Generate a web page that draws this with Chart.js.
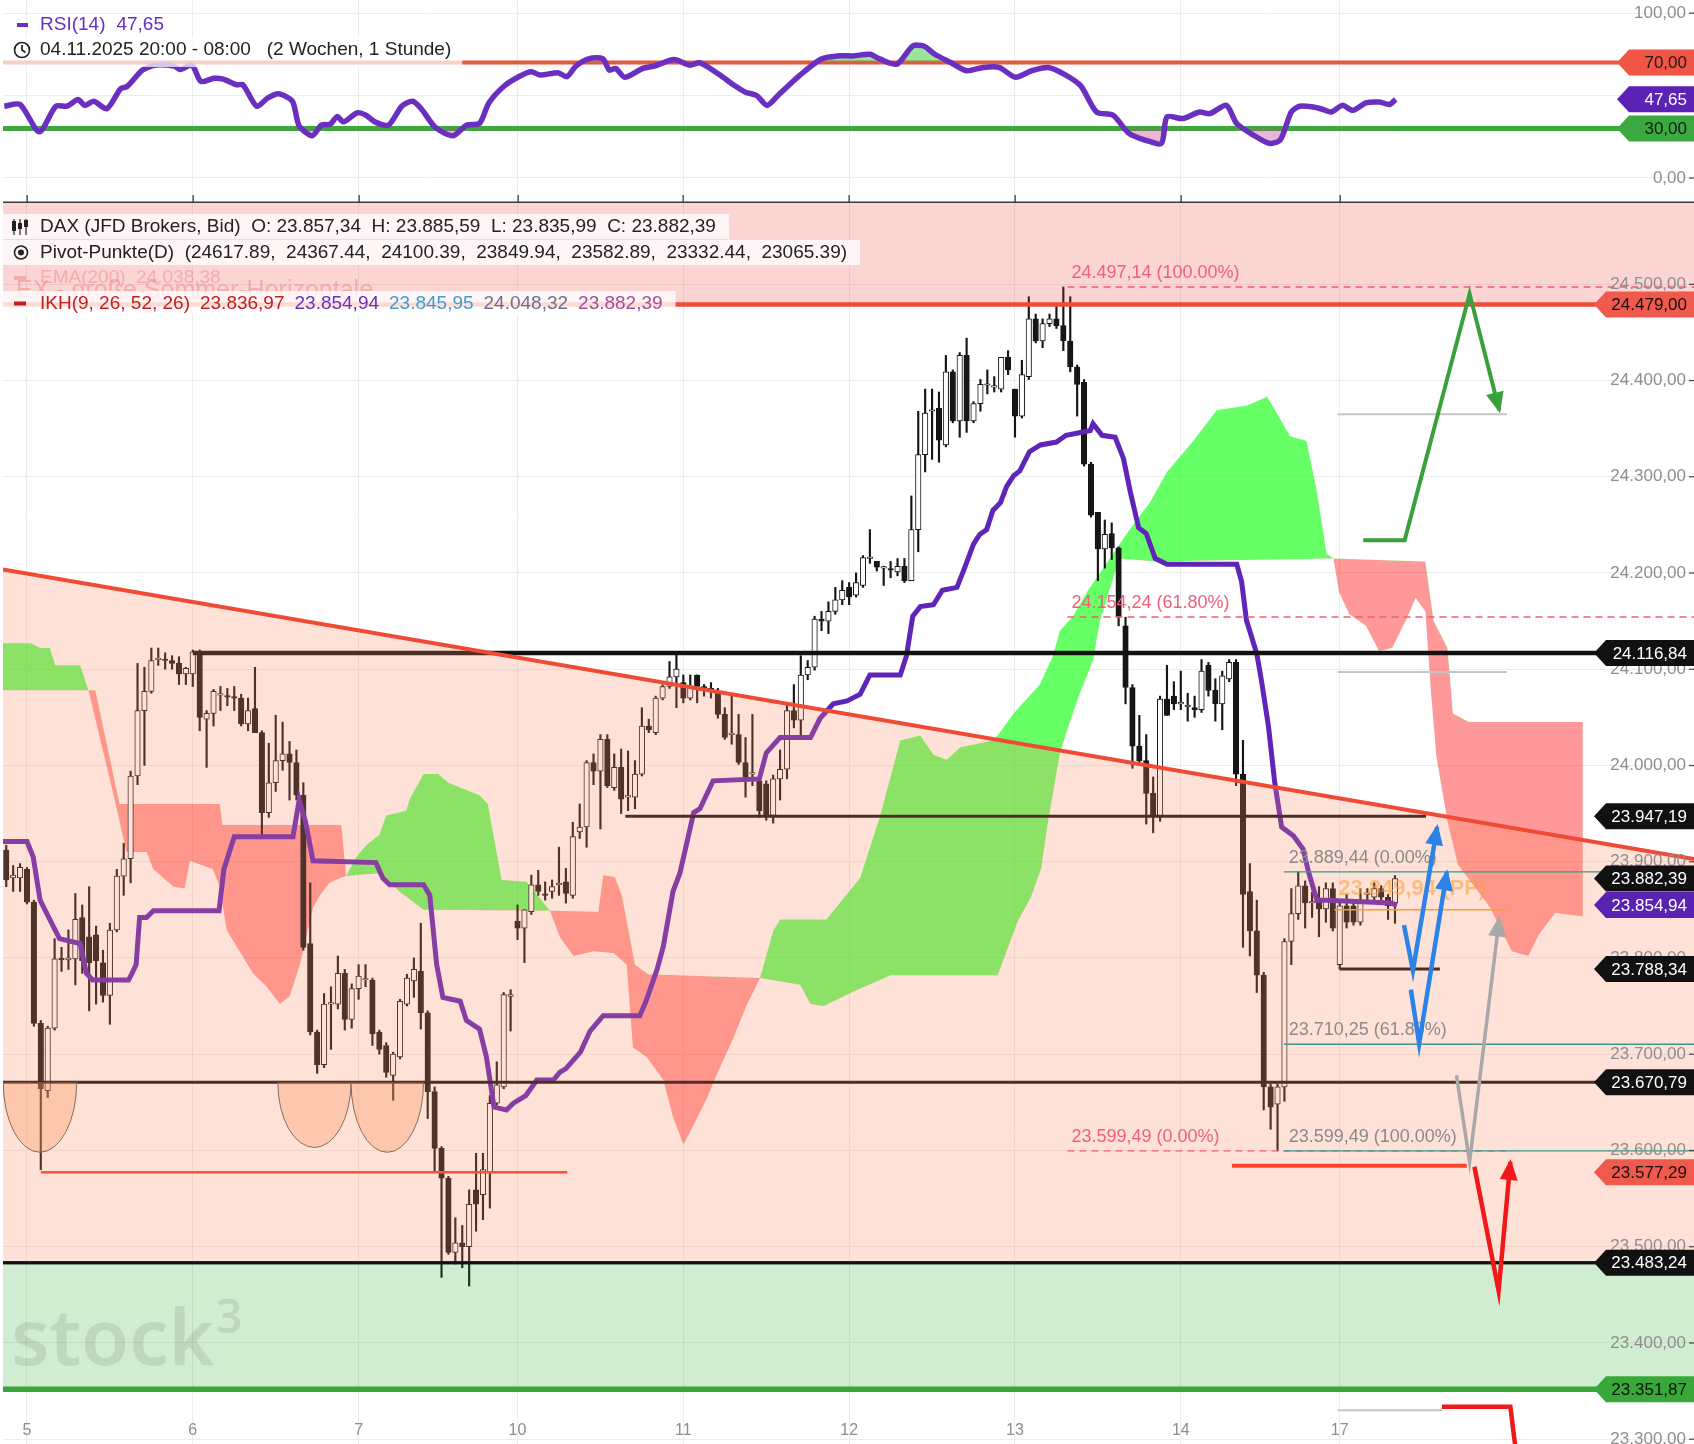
<!DOCTYPE html>
<html>
<head>
<meta charset="utf-8">
<script src="https://cdn.jsdelivr.net/npm/chart.js@4.4.0/dist/chart.umd.min.js"></script>
<style>
  html, body { margin: 0; padding: 0; background: #fff; }
  #wrap { position: relative; width: 1694px; height: 1444px; overflow: hidden; }
  canvas { position: absolute; left: 0; }
  #rsi { top: 0; }
  #main { top: 203px; }
</style>
</head>
<body>
<div id="wrap">
  <canvas id="rsi" width="1694" height="203"></canvas>
  <canvas id="main" width="1694" height="1241"></canvas>
</div>
<script>
// x-Achse: eine Einheit = eine Stundenkerze (ab 04.11. 20:00, Wochenende ausgelassen)
const dayTicks = [4, 28, 52, 75, 99, 123, 147, 171, 194];
const dayLabels = ['5', '6', '7', '10', '11', '12', '13', '14', '17'];
const priceTicks = [23300, 23400, 23500, 23600, 23700, 23800, 23900, 24000, 24100, 24200, 24300, 24400, 24500];
const rsiTicks = [0, 50, 100];
const rsiLevels = [70, 30];
const rsiLast = 47.65;

// Kerzen [open, high, low, close], Slot = Index + 1
const ohlc = [
  // 04.11. 20:00 - 05.11.
  [23912,23917,23874,23881],[23883,23896,23869,23886],[23883,23898,23869,23894],[23892,23894,23856,23858],
  [23858,23860,23729,23732],[23732,23735,23580,23664],[23662,23729,23655,23727],[23727,23820,23725,23799],
  [23799,23811,23786,23798],[23798,23829,23788,23800],[23799,23867,23772,23840],[23842,23855,23784,23797],
  [23822,23874,23745,23795],[23824,23833,23752,23797],[23795,23808,23754,23761],[23761,23836,23731,23829],
  [23829,23892,23827,23885],[23885,23919,23865,23903],[23903,23994,23878,23989],[23989,24106,23980,24057],
  [24057,24102,24000,24077],[24077,24122,24075,24109],[24110,24122,24104,24111],[24110,24117,24100,24109],
  [24109,24114,24100,24106],[24106,24113,24084,24095],[24095,24102,24084,24101],[24095,24120,24082,24118],
  // 06.11.
  [24118,24120,24036,24050],[24048,24057,23998,24054],[24054,24079,24041,24077],[24073,24082,24057,24073],
  [24072,24080,24062,24071],[24071,24082,24057,24070],[24070,24074,24041,24043],[24043,24070,24036,24057],
  [24059,24102,24034,24034],[24034,24036,23928,23951],[23951,24023,23946,23982],[23982,24052,23973,24005],
  [24005,24045,23995,24012],[24012,24025,23964,24003],[24003,24016,23964,23969],[23969,23982,23808,23811],
  [23815,23878,23720,23723],[23723,23725,23680,23689],[23689,23763,23686,23752],[23752,23770,23705,23752],
  [23752,23802,23747,23784],[23784,23788,23725,23736],[23736,23773,23727,23768],
  // 07.11.
  [23768,23793,23757,23781],[23777,23793,23770,23777],[23777,23779,23709,23721],[23723,23725,23700,23705],
  [23709,23712,23676,23681],[23678,23702,23652,23700],[23697,23757,23695,23755],[23752,23783,23750,23779],
  [23776,23800,23759,23788],[23786,23836,23726,23743],[23743,23745,23633,23661],[23661,23666,23578,23602],
  [23602,23604,23468,23571],[23571,23573,23492,23494],[23494,23530,23482,23504],[23504,23522,23478,23500],
  [23500,23559,23459,23544],[23559,23597,23516,23544],[23554,23597,23528,23580],[23578,23657,23540,23649],
  [23649,23692,23647,23668],[23666,23764,23664,23762],[23760,23767,23724,23762],
  // 10.11.
  [23838,23855,23819,23831],[23831,23850,23795,23850],[23848,23886,23845,23876],[23876,23891,23865,23869],
  [23866,23879,23860,23865],[23869,23881,23862,23874],[23876,23915,23865,23877],[23879,23893,23857,23867],
  [23865,23941,23862,23926],[23931,23960,23924,23936],[23936,24005,23915,24003],[24003,24012,23980,23994],
  [23994,24032,23934,24027],[24027,24032,23977,23979],[23977,24012,23974,23998],[23998,24017,23950,23965],
  [23967,24015,23953,23967],[23967,24005,23955,23991],[23991,24060,23989,24041],[24041,24048,24034,24037],
  [24034,24072,24032,24070],[24070,24084,24068,24082],[24082,24108,24080,24092],[24092,24115,24060,24100],
  // 11.11.
  [24086,24094,24065,24070],[24070,24094,24068,24082],[24094,24094,24065,24082],[24082,24084,24072,24080],
  [24080,24086,24070,24078],[24077,24080,24049,24053],[24053,24060,24027,24029],[24032,24075,24022,24032],
  [24032,24053,24001,24003],[24003,24029,23967,23988],[23991,24053,23979,23991],[23984,23990,23946,23953],
  [23981,23984,23943,23948],[23948,23990,23940,23986],[23986,24016,23964,23996],[23996,24064,23986,24057],
  [24057,24084,24039,24047],[24047,24114,24029,24094],[24094,24109,24089,24102],[24102,24155,24099,24152],
  [24152,24160,24140,24150],[24150,24170,24137,24160],[24160,24185,24157,24172],[24172,24192,24167,24182],
  // 12.11.
  [24185,24190,24167,24175],[24177,24200,24175,24190],[24187,24218,24185,24216],[24215,24245,24210,24215],
  [24212,24212,24202,24206],[24205,24207,24187,24205],[24204,24212,24195,24203],[24201,24215,24197,24207],
  [24207,24215,24190,24192],[24192,24280,24192,24245],[24245,24368,24222,24323],[24323,24391,24305,24366],
  [24368,24391,24318,24368],[24371,24388,24315,24338],[24333,24426,24331,24409],[24409,24411,24356,24358],
  [24358,24429,24341,24426],[24426,24444,24346,24358],[24358,24378,24356,24376],[24376,24401,24368,24396],
  [24395,24411,24386,24395],[24393,24404,24388,24393],[24391,24424,24388,24424],[24424,24431,24406,24411],
  // 13.11.
  [24391,24391,24341,24363],[24363,24421,24361,24406],[24404,24487,24401,24464],[24464,24469,24439,24441],
  [24441,24464,24434,24459],[24459,24469,24456,24464],[24464,24477,24454,24457],[24457,24497.14,24431,24441],
  [24441,24487,24409,24414],[24414,24416,24363,24396],[24398,24401,24311,24313],[24313,24315,24258,24260],
  [24263,24263,24192,24225],[24225,24255,24205,24240],[24241,24252,24214,24226],[24226,24227,24145,24154],
  [24145,24154,24064,24081],[24081,24084,23997,24020],[24020,24052,24000,24005],[24005,24032,23939,23971],
  [23971,23988,23930,23947],[23947,24072,23942,24069],[24069,24104,24052,24052],[24072,24087,24058,24064],
  // 14.11.
  [24064,24098,24058,24064],[24061,24075,24046,24061],[24060,24072,24050,24058],[24058,24110,24055,24098],
  [24104,24107,24072,24078],[24078,24090,24046,24064],[24064,24098,24037,24093],[24090,24110,24087,24107],
  [24107,24110,23979,23991],[23991,24026,23811,23866],[23869,23898,23802,23828],[23828,23860,23764,23782],
  [23782,23785,23642,23666],[23666,23669,23622,23645],[23648,23669,23599.49,23666],[23666,23820,23651,23817],
  [23817,23872,23793,23846],[23846,23889.44,23840,23875],[23875,23880,23831,23857],[23857,23868,23842,23858],
  [23860,23874,23822,23851],[23851,23878,23837,23872],[23872,23878,23828,23831],
  // 17.11.
  [23793,23857,23788.34,23854],[23854,23866,23831,23837],[23854,23860,23834,23837],[23837,23872,23834,23860],
  [23866,23872,23860,23866],[23863,23878,23860,23872],[23872,23875,23860,23863],[23863,23866,23840,23854],
  [23857.34,23885.59,23835.99,23882.39]
];

// RSI(14) [slot, Wert]
const rsi = [
  [0.72,43.5],[3.0,44.5],[5.78,28],[8.18,43.5],[9.79,43.5],[11.4,47.5],[12.37,44],[13.66,46.5],[15.57,42],
  [17.54,54],[18.51,55.5],[20.73,65.4],[22.7,68.4],[25.27,67.8],[26.2,65.8],[27.88,68.4],[29.18,58.5],
  [31.05,60.4],[32.4,59.9],[34.34,56.5],[35.27,56.5],[37.24,43.5],[38.87,48.5],[40.43,51],[42.42,46.5],
  [43.39,31.6],[45.28,25.6],[46.61,32],[47.91,32.6],[48.88,37.2],[49.82,34],[51.79,39.5],[53.07,38],
  [54.35,34],[56.31,32],[58.25,43.5],[59.83,46.5],[61.15,41.5],[63.11,30.6],[65.67,25.6],[67.61,32],
  [69.52,33.2],[70.85,45.5],[73.12,55.9],[75.37,61.8],[76.98,64.4],[78.28,62.4],[80.86,63.8],[82.15,61.4],
  [83.44,67.8],[85.39,72.4],[87.33,72.4],[88.28,65.4],[89.22,66.4],[90.55,61],[93.13,66.4],[94.76,67.8],
  [97.67,71.8],[99.92,68.4],[101.42,69.8],[104.1,63],[106.4,56],[108,52],[109.6,50],[111.1,44],[112.7,50],
  [115.8,62],[118.9,72],[121.3,74],[123.6,74],[126,75],[127.5,72],[129.9,69],[132.2,80],[133.8,80],
  [135.4,75],[137.7,70],[140,65],[142.4,67],[144.7,67],[147.1,61],[149.4,65],[151.8,67],[154.1,63],
  [156.5,56],[158.8,40],[161.2,38],[163.5,27],[165.8,23],[168.2,21],[169,37],[171.3,36],[173.7,40],
  [175.2,39],[177.6,44],[179.1,33],[181.5,26],[183.8,21],[185.4,23],[187,40],[188.2,43.5],[190.2,43],
  [191.6,41.5],[192.8,40],[194.4,44],[195.9,41],[197.8,45.5],[199.8,46],[201.2,44.5],[202.1,47.65]
];

// IKH Kijun-Sen [slot, Kurs]
const kijun = [
  [0.53,23921],[4,23921],[4.9,23905],[5.9,23860],[8.7,23820],[11.7,23815],[12.6,23784],[13.5,23777],
  [18.7,23777],[19.2,23784],[19.8,23793],[20.3,23842],[21.3,23842],[22.3,23849],[31.8,23849],[32.5,23892],
  [34,23926],[42.5,23926],[43.4,23964],[44.3,23942],[45.4,23901],[54.5,23899],[55.5,23883],[56.5,23876],
  [61.4,23876],[62.3,23865],[63.3,23793],[64.2,23759],[66.7,23755],[67.6,23735],[69.5,23726],[70.5,23697],
  [71.6,23645],[73.4,23642],[74.4,23649],[76.2,23657],[77.8,23673],[80.2,23673],[81.1,23681],[82,23685],
  [84.1,23702],[85.5,23724],[87.4,23740],[92.7,23740],[93.6,23755],[95.2,23788],[96.1,23812],[97.5,23869],
  [98.5,23888],[100.5,23951],[101.4,23955],[103.3,23984],[110,23986],[111,24013],[113,24029],[117.4,24029],
  [118.8,24049],[120.7,24064],[122.7,24067],[124.6,24074],[126,24094],[130.4,24094],[131.3,24114],
  [132.2,24155],[133.3,24165],[135.2,24167],[136.5,24182],[138.6,24185],[139.7,24205],[141,24230],
  [141.9,24240],[142.9,24245],[143.8,24265],[144.9,24273],[145.8,24290],[146.8,24301],[147.7,24306],
  [149.1,24326],[150.7,24333],[153,24336],[154.4,24343],[156.5,24346],[157.9,24348],[158.3,24355],
  [159.6,24343],[161.5,24341],[162.7,24319],[163.7,24284],[164.9,24247],[166,24241],[167.3,24215],
  [169,24209],[179.1,24209],[179.8,24191],[180.5,24151],[182,24116],[182.7,24087],[183.7,24040],
  [184.6,23982],[185.6,23936],[187.3,23927],[188.7,23913],[189.5,23889],[190.7,23860],[192.1,23860],
  [201.4,23857],[202.3,23854.94]
];

// Wolke: Senkou Span A / B [slot, Kurs]
const spanA = [
  [0.53,24127],[4.6,24127],[5.9,24122],[7.3,24122],[8.1,24104],[11.7,24104],[12.9,24078],
  [16.7,23964],[18.4,23910],[21.3,23910],[22.3,23892],[25.2,23874],[26.8,23872],[27.6,23901],[30.9,23892],
  [31.9,23874],[32.9,23829],[36.7,23784],[38.7,23770],[40.6,23752],[42,23760],[43.5,23793],[45.4,23852],
  [46.4,23865],[47.8,23878],[49.3,23883],[50.2,23885],
  [51.7,23905],[53.1,23917],[55,23928],[56,23948],[58.9,23953],[59.4,23965],[61.4,23991],[63.5,23991],
  [65,23982],[69.5,23969],[70.7,23960],[72.7,23881],[76.3,23879],[79.7,23849],
  [81.1,23822],[83.1,23802],[86,23807],[88.9,23805],[90.8,23793],[91.7,23707],[93.7,23697],[96.1,23673],
  [97.5,23635],[99,23606],[100.4,23625],[102.4,23654],[103.8,23678],[106.2,23716],[108.1,23750],[110.1,23779],
  [112,23828],[113,23840],[119.7,23840],[124.6,23883],[127.5,23948],[130.4,24026],[133.3,24031],[135.2,24011],
  [137.1,24006],[139.1,24019],[143.9,24026],[145.3,24039],[146.8,24054],[148.7,24069],[150.6,24084],
  [152.5,24114],[153.5,24140],[155.4,24155],[157.4,24180],[159.3,24200],[163.2,24241],[166.5,24273],
  [169,24305],[172.8,24337],[176.2,24369],[180.6,24374],[183.5,24383],[185.4,24360],[186.8,24342],
  [189.2,24337],[190.7,24284],[192.1,24220],[193.1,24215],
  [193.9,24180],[195.4,24157],[197.8,24145],[199.7,24119],[201.6,24122],[203.6,24151],[205,24174],
  [206.4,24160],[207.2,24077],[208,24009],[209.6,23942],[211.1,23897],[215.8,23852],[218.9,23807],
  [221.3,23802],[222.8,23824],[225.2,23847],[229.2,23843]
];
const spanB = [
  [0.53,24078],[13.9,24078],[17.4,23960],[31.9,23960],[32.3,23938],[49.5,23938],[50.2,23885],
  [55,23888],[57.9,23869],[61.4,23850],[79.7,23849],
  [86.7,23848],[87.4,23886],[89.1,23884],[90.1,23865],[91,23831],[92,23793],[93.9,23783],[110.1,23779],
  [115.9,23772],[117.4,23752],[119.3,23750],[124.2,23767],[129,23782],[144.5,23782],[147.4,23838],
  [149.3,23863],[150.8,23893],[151.7,23938],[153.5,24013],[154.9,24044],[156.4,24075],[158.3,24109],
  [159.3,24150],[162.1,24215],[167.4,24212],[193.1,24215],
  [206.4,24212],[207.6,24150],[209.6,24122],[210.4,24054],[212.7,24045],[229.2,24045]
];

// Zeichnungen
const trend = [[0.53, 24203.6], [245.28, 23902.8]];
const blackRays = [[24116.84, 28, 245.3], [23947.19, 90.6, 206.5], [23670.79, 0.5, 245.3], [23788.34, 194, 208.5], [23483.24, 0.5, 245.3]];
const redRays = [[23577.29, 6, 82.2], [23584, 178.4, 212.4]];
const upperLimit = 24479.00;
const greenBase = 23351.87;
const fibA = [24497.14, 24154.24, 23599.49];
const fibALabels = ['24.497,14 (100.00%)', '24.154,24 (61.80%)', '23.599,49 (0.00%)'];
const fibAFrom = 154.6;
const fibB = [23889.44, 23710.25, 23599.49];
const fibBLabels = ['23.889,44 (0.00%)', '23.710,25 (61.80%)', '23.599,49 (100.00%)'];
const fibBFrom = 185.9;
const pivotPP = [23849.94, 193.2, 218.2];
const grayRays = [[24365, 193.7, 218.2], [24097, 193.7, 218.2], [23330, 193.7, 208.8]];
const semis = [[0.56, 11.2, 23598], [40.3, 50.9, 23603], [50.9, 61.4, 23598]];
const arrowGreen = [[197.4, 24234], [203.4, 24234], [212.8, 24490], [217.1, 24369]];
const arrowBlue1 = [[203.3, 23834], [204.6, 23787], [208.1, 23936]];
const arrowBlue2 = [[204.3, 23767], [205.5, 23711], [209.5, 23889]];
const arrowGray = [[210.9, 23678], [212.8, 23588], [217.1, 23841]];
const arrowRed = [[213.5, 23583], [217.0, 23454], [218.7, 23588]];
const redDrop = [[208.8, 23333.6], [218.7, 23333.6], [219.8, 23270]];
const tagValues = [24479.00, 24116.84, 23947.19, 23882.39, 23854.94, 23788.34, 23670.79, 23577.29, 23483.24, 23351.87];
const tagKinds = ['limit', 'ray', 'ray', 'last', 'kijun', 'ray', 'ray', 'limit', 'ray', 'base'];
const pivots = [24617.89, 24367.44, 24100.39, 23849.94, 23582.89, 23332.44, 23065.39];
const ikhValues = [23836.97, 23854.94, 23845.95, 24048.32, 23882.39];
const ema200 = 24038.38;

const xMin = 0.53, xMax = 245.28;
const FONT = '"Liberation Sans", Arial, sans-serif';
const font = (px, w) => (w ? w + ' ' : '') + px + 'px ' + FONT;
Chart.defaults.font.family = FONT;

function de(v) {
  const [i, d] = v.toFixed(2).split('.');
  return i.replace(/\B(?=(\d{3})+(?!\d))/g, '.') + ',' + d;
}

function tag(ctx, y, text, fill, color, tipX, h) {
  const r = 1694, l = tipX + 12;
  ctx.beginPath();
  ctx.moveTo(tipX, y); ctx.lineTo(l, y - h / 2); ctx.lineTo(r, y - h / 2);
  ctx.lineTo(r, y + h / 2); ctx.lineTo(l, y + h / 2); ctx.closePath();
  ctx.fillStyle = fill; ctx.fill();
  ctx.fillStyle = color; ctx.font = font(17); ctx.textAlign = 'right'; ctx.textBaseline = 'middle';
  ctx.fillText(text, 1687, y + 1);
}

function head(ctx, x0, y0, x1, y1, len, half, color) {
  const a = Math.atan2(y1 - y0, x1 - x0), c = Math.cos(a), s = Math.sin(a);
  ctx.beginPath();
  ctx.moveTo(x1 + c * 3, y1 + s * 3);
  ctx.lineTo(x1 - len * c + half * s, y1 - len * s - half * c);
  ctx.lineTo(x1 - len * c - half * s, y1 - len * s + half * c);
  ctx.closePath(); ctx.fillStyle = color; ctx.fill();
}

function polyline(ctx, pts, X, Y, color, w, arrow) {
  ctx.strokeStyle = color; ctx.lineWidth = w; ctx.lineJoin = 'miter'; ctx.lineCap = 'butt';
  ctx.beginPath();
  pts.forEach(([s, p], i) => i ? ctx.lineTo(X(s), Y(p)) : ctx.moveTo(X(s), Y(p)));
  ctx.stroke();
  if (arrow) {
    const n = pts.length;
    head(ctx, X(pts[n - 2][0]), Y(pts[n - 2][1]), X(pts[n - 1][0]), Y(pts[n - 1][1]), 18, 9, color);
  }
}

function hline(ctx, X, Y, p, s0, s1, color, w, dash) {
  ctx.strokeStyle = color; ctx.lineWidth = w; ctx.setLineDash(dash || []);
  ctx.beginPath(); ctx.moveTo(X(s0), Y(p)); ctx.lineTo(X(s1), Y(p)); ctx.stroke();
  ctx.setLineDash([]);
}

function xScale() {
  return {
    type: 'linear', min: xMin, max: xMax, offset: false,
    grid: { color: '#ececec', drawTicks: false, offset: false },
    border: { display: false }, ticks: { display: false },
    afterBuildTicks: s => { s.ticks = dayTicks.map(v => ({ value: v })); }
  };
}

// ---------- RSI ----------
const rsiPts = rsi.map(([x, y]) => ({ x, y }));
new Chart(document.getElementById('rsi'), {
  type: 'line',
  data: {
    datasets: [
      { data: rsiPts, borderColor: '#6a2fc0', borderWidth: 5.5, pointRadius: 0, tension: 0.25,
        fill: { target: { value: 70 }, above: 'rgba(60,200,60,0.5)', below: 'rgba(0,0,0,0)' }, order: 1 },
      { data: rsiPts, borderColor: 'rgba(0,0,0,0)', borderWidth: 1, pointRadius: 0, tension: 0.25,
        fill: { target: { value: 30 }, above: 'rgba(0,0,0,0)', below: 'rgba(200,70,150,0.4)' }, order: 2 }
    ]
  },
  options: {
    responsive: false, animation: false, events: [], devicePixelRatio: 1,
    layout: { padding: { left: 3, right: 0, top: 0, bottom: 0 } },
    plugins: { legend: { display: false }, tooltip: { enabled: false } },
    scales: {
      x: xScale(),
      y: { type: 'linear', position: 'right', min: -15.2, max: 107.9, beginAtZero: false,
        grid: { color: '#ededed', drawTicks: false }, border: { display: false }, ticks: { display: false },
        afterBuildTicks: s => { s.ticks = rsiTicks.map(v => ({ value: v })); } }
    }
  },
  plugins: [{
    id: 'rsiDecor',
    beforeDatasetsDraw(chart) {
      const { ctx, chartArea: a, scales: { y } } = chart;
      ctx.save();
      ctx.strokeStyle = '#f0503c'; ctx.lineWidth = 4;
      ctx.beginPath(); ctx.moveTo(a.left, y.getPixelForValue(rsiLevels[0])); ctx.lineTo(a.right, y.getPixelForValue(rsiLevels[0])); ctx.stroke();
      ctx.strokeStyle = '#3aaa3a'; ctx.lineWidth = 5;
      ctx.beginPath(); ctx.moveTo(a.left, y.getPixelForValue(rsiLevels[1])); ctx.lineTo(a.right, y.getPixelForValue(rsiLevels[1])); ctx.stroke();
      ctx.restore();
    },
    afterDraw(chart) {
      const { ctx, chartArea: a, scales: { x, y } } = chart;
      ctx.save();
      // Achsenbeschriftung
      ctx.font = font(17); ctx.textAlign = 'right'; ctx.textBaseline = 'middle';
      rsiTicks.forEach(v => {
        const py = y.getPixelForValue(v);
        ctx.fillStyle = '#8e8e8e'; ctx.fillText(de(v), 1686, py);
        ctx.fillStyle = '#444'; ctx.fillRect(1689, py - 0.5, 5, 1.2);
      });
      // Trennlinie mit Tagesstrichen
      ctx.fillStyle = '#3a3a3a';
      ctx.fillRect(a.left, 201.5, a.right - a.left, 1.5);
      dayTicks.forEach(d => ctx.fillRect(Math.round(x.getPixelForValue(d)) - 0.5, 195, 1.3, 7));
      // Marken
      tag(ctx, y.getPixelForValue(70), de(70), '#f05545', '#1a1a1a', 1617, 26);
      tag(ctx, y.getPixelForValue(rsiLast), de(rsiLast), '#5b22b5', '#ffffff', 1617, 26);
      tag(ctx, y.getPixelForValue(30), de(30), '#3aaa40', '#1a1a1a', 1617, 26);
      // Legende
      ctx.textAlign = 'left'; ctx.textBaseline = 'middle'; ctx.font = font(19);
      ctx.fillStyle = '#6a2fc0'; ctx.fillRect(17, 23, 11, 4);
      ctx.fillText('RSI(14)', 40, 25);
      ctx.fillText(de(rsiLast), 40 + ctx.measureText('RSI(14)').width + 11, 25);
      const t2 = '04.11.2025 20:00 - 08:00   (2 Wochen, 1 Stunde)';
      const w2 = ctx.measureText(t2).width;
      ctx.fillStyle = 'rgba(255,255,255,0.72)'; ctx.fillRect(3, 36, 48 + w2, 31);
      ctx.strokeStyle = '#222'; ctx.lineWidth = 1.7;
      ctx.beginPath(); ctx.arc(22, 50, 7.5, 0, Math.PI * 2); ctx.stroke();
      ctx.beginPath(); ctx.moveTo(22, 45); ctx.lineTo(22, 50); ctx.lineTo(25.5, 52.5); ctx.stroke();
      ctx.fillStyle = '#222'; ctx.fillText(t2, 40, 50);
      ctx.restore();
    }
  }]
});

// ---------- Hauptchart ----------
const wickData = ohlc.map((c, i) => ({ x: i + 1, y: [c[2], c[1]] }));
const bodyData = ohlc.map((c, i) => ({ x: i + 1, y: [c[0], c[3]] }));
const toPts = arr => arr.map(([x, y]) => ({ x, y }));

new Chart(document.getElementById('main'), {
  type: 'line',
  data: {
    datasets: [
      { data: toPts(spanA), borderColor: 'rgba(0,0,0,0)', borderWidth: 1, pointRadius: 0, tension: 0,
        fill: { target: 1, above: 'rgba(0,255,0,0.6)', below: 'rgba(255,0,0,0.4)' }, order: 10 },
      { data: toPts(spanB), borderColor: 'rgba(0,0,0,0)', borderWidth: 1, pointRadius: 0, tension: 0, fill: false, order: 9 },
      { type: 'bar', data: wickData, backgroundColor: '#161616', barThickness: 1.5, grouped: false, order: 5 },
      { type: 'bar', data: bodyData, grouped: false, order: 4, barThickness: 5.5, minBarLength: 1.5,
        borderSkipped: false, borderWidth: 1, borderColor: '#161616',
        backgroundColor: c => { const k = ohlc[c.dataIndex]; return k && k[3] >= k[0] ? '#ffffff' : '#161616'; } },
      { data: toPts(kijun), borderColor: '#5f24b8', borderWidth: 5, pointRadius: 0, tension: 0, fill: false, order: 1 }
    ]
  },
  options: {
    responsive: false, animation: false, events: [], devicePixelRatio: 1,
    layout: { padding: { left: 3, right: 0, top: 0, bottom: 0 } },
    plugins: { legend: { display: false }, tooltip: { enabled: false } },
    scales: {
      x: xScale(),
      y: { type: 'linear', position: 'right', min: 23294.9, max: 24584.4, beginAtZero: false,
        grid: { color: '#ededed', drawTicks: false }, border: { display: false }, ticks: { display: false },
        afterBuildTicks: s => { s.ticks = priceTicks.map(v => ({ value: v })); } }
    }
  },
  plugins: [{
    id: 'mainDecor',
    afterDatasetsDraw(chart) {
      const { ctx, chartArea: a, scales: { x, y } } = chart;
      const X = v => x.getPixelForValue(v), Y = v => y.getPixelForValue(v);
      ctx.save();
      ctx.beginPath(); ctx.rect(a.left, a.top, a.right - a.left, a.bottom - a.top); ctx.clip();

      // horizontale Linien unter der Fläche
      blackRays.forEach(([p, s0, s1], i) => hline(ctx, X, Y, p, s0, s1, '#111', i === 0 ? 4.5 : 3));
      hline(ctx, X, Y, redRays[0][0], redRays[0][1], redRays[0][2], '#ff3b2a', 2.5);
      hline(ctx, X, Y, redRays[1][0], redRays[1][1], redRays[1][2], '#ff2a1a', 4);

      // Flächen
      ctx.fillStyle = 'rgba(250,140,100,0.25)';
      ctx.beginPath();
      ctx.moveTo(X(trend[0][0]), Y(trend[0][1])); ctx.lineTo(X(trend[1][0]), Y(trend[1][1]));
      ctx.lineTo(X(trend[1][0]), Y(blackRays[4][0])); ctx.lineTo(X(trend[0][0]), Y(blackRays[4][0]));
      ctx.closePath(); ctx.fill();
      ctx.fillStyle = 'rgba(235,60,60,0.22)';
      ctx.fillRect(a.left, a.top, a.right - a.left, Y(upperLimit) - a.top);
      ctx.fillStyle = 'rgba(40,170,40,0.21)';
      ctx.fillRect(a.left, Y(blackRays[4][0]), a.right - a.left, Y(greenBase) - Y(blackRays[4][0]));

      hline(ctx, X, Y, upperLimit, xMin, xMax, '#f04a3a', 4.5);
      hline(ctx, X, Y, greenBase, xMin, xMax, '#3aa53a', 5.5);
      hline(ctx, X, Y, blackRays[4][0], xMin, xMax, '#111', 3);

      // Halbkreise
      semis.forEach(([s0, s1, p]) => {
        const cx = (X(s0) + X(s1)) / 2, rx = (X(s1) - X(s0)) / 2, cy = Y(blackRays[2][0]), ry = Y(p) - cy;
        ctx.beginPath(); ctx.ellipse(cx, cy, rx, ry, 0, 0, Math.PI);
        ctx.fillStyle = 'rgba(245,150,90,0.35)'; ctx.fill();
        ctx.strokeStyle = '#8a6a5a'; ctx.lineWidth = 1; ctx.stroke();
      });

      // Trendlinie
      ctx.strokeStyle = '#f04a35'; ctx.lineWidth = 4;
      ctx.beginPath(); ctx.moveTo(X(trend[0][0]), Y(trend[0][1])); ctx.lineTo(X(trend[1][0]), Y(trend[1][1])); ctx.stroke();

      // Fibonacci
      ctx.font = font(18); ctx.textAlign = 'left'; ctx.textBaseline = 'middle';
      fibA.forEach((p, i) => {
        hline(ctx, X, Y, p, fibAFrom, i === 2 ? 219 : xMax, '#f06070', 1.3, [7, 5]);
        ctx.fillStyle = '#f0607a'; ctx.fillText(fibALabels[i], X(fibAFrom) + 4, Y(p) - 14);
      });
      fibB.forEach((p, i) => {
        hline(ctx, X, Y, p, fibBFrom, xMax, '#3a9a8a', 1.3);
        ctx.fillStyle = '#8a8a8a'; ctx.fillText(fibBLabels[i], X(fibBFrom) + 5, Y(p) - 14);
      });
      hline(ctx, X, Y, pivotPP[0], pivotPP[1], pivotPP[2], '#f5a030', 1.5);
      ctx.font = font(22, 'bold'); ctx.fillStyle = 'rgba(245,160,60,0.55)';
      ctx.fillText(de(pivotPP[0]) + ' (PP)', X(pivotPP[1]) + 4, Y(pivotPP[0]) - 21);
      grayRays.forEach(([p, s0, s1]) => hline(ctx, X, Y, p, s0, s1, '#c4c4c4', 2));

      // Pfeile
      polyline(ctx, arrowGreen, X, Y, '#3aa03a', 4, true);
      polyline(ctx, arrowBlue1, X, Y, '#2c82e6', 4.5, true);
      polyline(ctx, arrowBlue2, X, Y, '#2c82e6', 4.5, true);
      polyline(ctx, arrowGray, X, Y, '#a8a8a8', 3.5, true);
      polyline(ctx, arrowRed, X, Y, '#f01818', 4.5, true);
      polyline(ctx, redDrop, X, Y, '#f01818', 4.5, false);

      // Wasserzeichen
      ctx.fillStyle = 'rgba(60,60,60,0.12)'; ctx.textBaseline = 'alphabetic';
      ctx.font = '600 78px "Noto Sans", ' + FONT;
      ctx.fillText('stock', 11, 1162);
      ctx.font = '600 46px "Noto Sans", ' + FONT;
      ctx.fillText('3', 216, 1130);
      ctx.restore();
    },
    afterDraw(chart) {
      const { ctx, scales: { x, y } } = chart;
      const X = v => x.getPixelForValue(v), Y = v => y.getPixelForValue(v);
      ctx.save();
      // y-Beschriftung
      ctx.font = font(17); ctx.textAlign = 'right'; ctx.textBaseline = 'middle';
      priceTicks.forEach(v => {
        ctx.fillStyle = '#8e8e8e'; ctx.fillText(de(v), 1686, Y(v));
        ctx.fillStyle = '#444'; ctx.fillRect(1689, Y(v) - 0.5, 5, 1.2);
      });
      // x-Beschriftung
      ctx.font = font(16); ctx.textAlign = 'center'; ctx.fillStyle = '#8e8e8e';
      dayTicks.forEach((d, i) => ctx.fillText(dayLabels[i], X(d), 1228));
      // Marken
      const styles = { limit: ['#f05a4c', '#111'], ray: ['#111111', '#fff'], last: ['#111111', '#fff'],
        kijun: ['#5a22b0', '#fff'], base: ['#38a838', '#111'] };
      tagValues.forEach((v, i) => { const st = styles[tagKinds[i]]; tag(ctx, Y(v), de(v), st[0], st[1], 1594, 26); });

      // Legende
      ctx.textAlign = 'left'; ctx.textBaseline = 'middle'; ctx.font = font(19);
      const last = ohlc[ohlc.length - 1];
      const r1 = 'DAX (JFD Brokers, Bid)  O: ' + de(last[0]) + '  H: ' + de(last[1]) + '  L: ' + de(last[2]) + '  C: ' + de(last[3]);
      const r2 = 'Pivot-Punkte(D)  (' + pivots.map(v => v.toFixed(2)).join(',  ') + ')';
      ctx.fillStyle = 'rgba(255,255,255,0.8)';
      ctx.fillRect(3, 11, 50 + ctx.measureText(r1).width, 25);
      ctx.fillRect(3, 37, 50 + ctx.measureText(r2).width, 25);
      // Kerzen-Symbol
      ctx.fillStyle = '#222'; ctx.strokeStyle = '#222'; ctx.lineWidth = 1.2;
      [[14, 18, 28], [20, 20, 26], [26, 17, 24]].forEach(([cx, t, b]) => {
        ctx.beginPath(); ctx.moveTo(cx, 16); ctx.lineTo(cx, 32); ctx.stroke();
        ctx.fillRect(cx - 2, t, 4, b - t);
      });
      ctx.fillText(r1, 40, 24);
      ctx.beginPath(); ctx.arc(21, 49.5, 6.5, 0, Math.PI * 2); ctx.lineWidth = 1.6; ctx.stroke();
      ctx.beginPath(); ctx.arc(21, 49.5, 3, 0, Math.PI * 2); ctx.fill();
      ctx.fillText(r2, 40, 49.5);
      // verblasste Zeilen
      ctx.fillStyle = 'rgba(240,120,120,0.45)';
      ctx.fillRect(14, 73, 12, 4);
      ctx.fillText('EMA(200)  ' + de(ema200), 40, 75);
      ctx.font = font(25); ctx.fillStyle = 'rgba(230,90,90,0.33)';
      ctx.fillText('EX - große Sommer-Horizontale', 16, 88);
      // IKH
      ctx.font = font(19);
      const parts = [['IKH(9, 26, 52, 26)', '#c0201e']].concat(
        ikhValues.map((v, i) => [de(v), ['#c0201e', '#6a2fc0', '#3a9fd0', '#6a7090', '#a0509a'][i]]));
      let w = 0; parts.forEach(p => { w += ctx.measureText(p[0]).width + 10; });
      ctx.fillStyle = 'rgba(255,255,255,0.8)'; ctx.fillRect(3, 88, 40 + w, 25);
      ctx.fillStyle = '#c0201e'; ctx.fillRect(14, 98.5, 12, 4);
      let px = 40;
      parts.forEach(([t, c]) => { ctx.fillStyle = c; ctx.fillText(t, px, 100.5); px += ctx.measureText(t).width + 10; });
      ctx.restore();
    }
  }]
});
</script>
</body>
</html>
